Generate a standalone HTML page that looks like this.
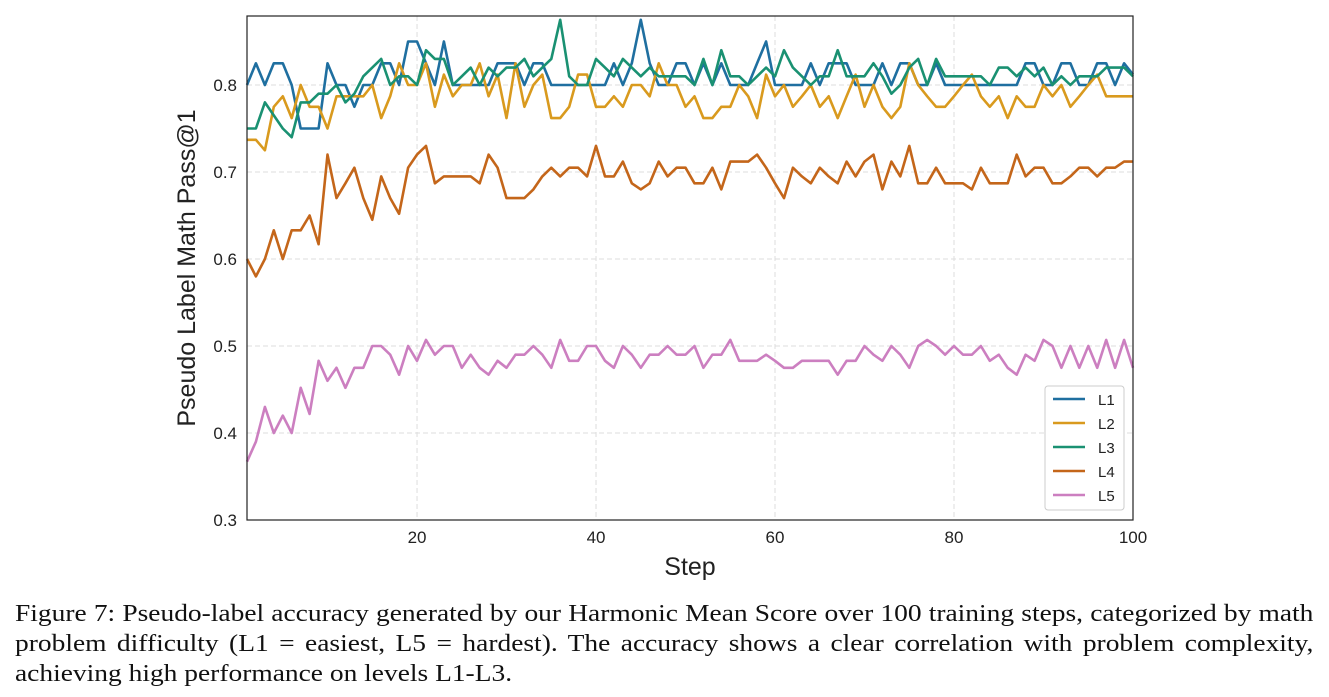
<!DOCTYPE html>
<html><head><meta charset="utf-8"><style>
body{margin:0;background:#fff;width:1329px;height:697px;overflow:hidden;position:relative}
.cap{position:absolute;left:15px;width:1149px;font-family:"Liberation Serif",serif;font-size:24.3px;line-height:30px;color:#111;text-align:justify;text-align-last:justify;white-space:nowrap;transform:scaleX(1.13);transform-origin:0 0}
</style></head><body>
<svg id="chart" width="1329" height="600" style="position:absolute;left:0;top:0" font-family="Liberation Sans, sans-serif"></svg>
<div class="cap" style="top:599px">Figure 7: Pseudo-label accuracy generated by our Harmonic Mean Score over 100 training steps, categorized by math</div>
<div class="cap" style="top:629px">problem difficulty (L1 = easiest, L5 = hardest). The accuracy shows a clear correlation with problem complexity,</div>
<div class="cap" style="top:659px;text-align-last:left">achieving high performance on levels L1-L3.</div>
<script>
const seriesNames=["L1","L2","L3","L4","L5"];
const seriesColors=["#1f6fa0","#d99a1e","#1a9172","#c4661a","#cc7fc0"];
const L1=[0.80,0.825,0.80,0.825,0.825,0.80,0.75,0.75,0.75,0.825,0.80,0.80,0.775,0.80,0.80,0.825,0.825,0.80,0.85,0.85,0.825,0.80,0.85,0.80,0.80,0.80,0.80,0.80,0.825,0.825,0.825,0.80,0.825,0.825,0.80,0.80,0.80,0.80,0.80,0.80,0.80,0.825,0.80,0.825,0.875,0.825,0.80,0.80,0.825,0.825,0.80,0.825,0.80,0.825,0.80,0.80,0.80,0.825,0.85,0.80,0.80,0.80,0.80,0.825,0.80,0.825,0.825,0.825,0.80,0.80,0.80,0.825,0.80,0.825,0.825,0.80,0.80,0.825,0.80,0.80,0.80,0.80,0.80,0.80,0.80,0.80,0.80,0.825,0.825,0.80,0.80,0.825,0.825,0.80,0.80,0.825,0.825,0.80,0.825,0.812];
const L2=[0.737,0.737,0.725,0.775,0.787,0.762,0.80,0.775,0.775,0.75,0.787,0.787,0.787,0.787,0.80,0.762,0.787,0.825,0.80,0.80,0.825,0.775,0.812,0.787,0.80,0.80,0.825,0.787,0.812,0.762,0.825,0.775,0.80,0.812,0.762,0.762,0.775,0.812,0.812,0.775,0.775,0.787,0.775,0.80,0.80,0.787,0.825,0.80,0.80,0.775,0.787,0.762,0.762,0.775,0.775,0.80,0.787,0.762,0.812,0.787,0.80,0.775,0.787,0.80,0.775,0.787,0.762,0.787,0.812,0.775,0.80,0.775,0.762,0.775,0.825,0.80,0.787,0.775,0.775,0.787,0.80,0.812,0.787,0.775,0.787,0.762,0.787,0.775,0.775,0.80,0.787,0.80,0.775,0.787,0.80,0.812,0.787,0.787,0.787,0.787];
const L3=[0.75,0.75,0.78,0.765,0.75,0.74,0.78,0.78,0.79,0.79,0.80,0.78,0.79,0.81,0.82,0.83,0.80,0.81,0.81,0.80,0.84,0.83,0.83,0.80,0.81,0.82,0.80,0.82,0.81,0.82,0.82,0.83,0.81,0.82,0.83,0.875,0.81,0.80,0.80,0.83,0.82,0.81,0.83,0.82,0.81,0.82,0.81,0.81,0.81,0.81,0.80,0.83,0.80,0.84,0.81,0.81,0.80,0.81,0.82,0.81,0.84,0.82,0.81,0.80,0.81,0.81,0.84,0.81,0.81,0.81,0.825,0.81,0.79,0.80,0.82,0.83,0.80,0.83,0.81,0.81,0.81,0.81,0.81,0.80,0.82,0.82,0.81,0.82,0.81,0.82,0.80,0.81,0.80,0.81,0.81,0.81,0.82,0.82,0.82,0.81];
const L4=[0.60,0.58,0.60,0.633,0.60,0.633,0.633,0.65,0.617,0.72,0.67,0.687,0.705,0.67,0.645,0.695,0.67,0.652,0.705,0.72,0.73,0.687,0.695,0.695,0.695,0.695,0.687,0.72,0.705,0.67,0.67,0.67,0.68,0.695,0.705,0.695,0.705,0.705,0.695,0.73,0.695,0.695,0.712,0.687,0.68,0.687,0.712,0.695,0.705,0.705,0.687,0.687,0.705,0.68,0.712,0.712,0.712,0.72,0.705,0.687,0.67,0.705,0.695,0.687,0.705,0.695,0.687,0.712,0.695,0.712,0.72,0.68,0.712,0.695,0.73,0.687,0.687,0.705,0.687,0.687,0.687,0.68,0.705,0.687,0.687,0.687,0.72,0.695,0.705,0.705,0.687,0.687,0.695,0.705,0.705,0.695,0.705,0.705,0.712,0.712];
const L5=[0.367,0.39,0.43,0.40,0.42,0.40,0.452,0.422,0.483,0.46,0.475,0.452,0.475,0.475,0.50,0.50,0.49,0.467,0.50,0.483,0.507,0.49,0.50,0.50,0.475,0.49,0.475,0.467,0.483,0.475,0.49,0.49,0.50,0.49,0.475,0.507,0.483,0.483,0.50,0.50,0.483,0.475,0.50,0.49,0.475,0.49,0.49,0.50,0.49,0.49,0.50,0.475,0.49,0.49,0.507,0.483,0.483,0.483,0.49,0.483,0.475,0.475,0.483,0.483,0.483,0.483,0.467,0.483,0.483,0.50,0.49,0.483,0.50,0.49,0.475,0.50,0.507,0.50,0.49,0.50,0.49,0.49,0.50,0.483,0.49,0.475,0.467,0.49,0.483,0.507,0.50,0.475,0.50,0.475,0.50,0.475,0.507,0.475,0.507,0.475];
const xTicks=[20,40,60,80,100];
const yTicks=[0.3,0.4,0.5,0.6,0.7,0.8];
const allSeries=[L1,L2,L3,L4,L5];
const svg=document.getElementById('chart');
const NS='http://www.w3.org/2000/svg';
const PL=247,PR=1133,PT=16,PB=520;
const xs=v=>PL+(v-1)/(100-1)*(PR-PL);
const ys=v=>PB-(v-0.3)/0.1*87;
function mk(t,a,p){const e=document.createElementNS(NS,t);for(const k in a)e.setAttribute(k,a[k]);(p||svg).appendChild(e);return e;}
xTicks.forEach(t=>{
 if(t<100){const g=mk('line',{x1:xs(t),x2:xs(t),y1:PT,y2:PB,stroke:'#ddd','stroke-dasharray':'5,3','stroke-width':1});
 
 }
 const l=mk('text',{x:xs(t),y:543,'text-anchor':'middle','font-size':17,fill:'#222'});l.textContent=t;
 
 
});
yTicks.forEach(t=>{
 if(t>0.3){const g=mk('line',{x1:PL,x2:PR,y1:ys(t),y2:ys(t),stroke:'#ddd','stroke-dasharray':'5,3','stroke-width':1});
 
 }
 const l=mk('text',{x:237,y:ys(t)+6,'text-anchor':'end','font-size':17,fill:'#222'});l.textContent=t.toFixed(1);
 
 
});
allSeries.forEach((s,i)=>{
 const d=s.map((v,j)=>(j?'L':'M')+xs(j+1).toFixed(1)+','+ys(v).toFixed(1)).join(' ');
 const p=mk('path',{d:d,fill:'none',stroke:seriesColors[i],'stroke-width':2.6,'stroke-linejoin':'round'});
 
 
});
const fr=mk('rect',{x:PL,y:PT,width:PR-PL,height:PB-PT,fill:'none',stroke:'#222','stroke-width':1.2});


const xt=mk('text',{x:690,y:575,'text-anchor':'middle','font-size':25,fill:'#222'});xt.textContent='Step';


const yt=mk('text',{x:0,y:0,'text-anchor':'middle','font-size':25,fill:'#222',transform:'translate(195,268) rotate(-90)'});yt.textContent='Pseudo Label Math Pass@1';


const lg=mk('g',{});


mk('rect',{x:1045,y:386,width:79,height:124,rx:3,fill:'#fff',stroke:'#ccc'},lg);
seriesNames.forEach((n,i)=>{
 const y=399+i*24;
 const e=mk('g',{},lg);
 
 
 mk('line',{x1:1053,x2:1085,y1:y,y2:y,stroke:seriesColors[i],'stroke-width':2.6},e);
 const t=mk('text',{x:1098,y:y+6,'font-size':15,fill:'#222'},e);t.textContent=n;
});
</script>
</body></html>
